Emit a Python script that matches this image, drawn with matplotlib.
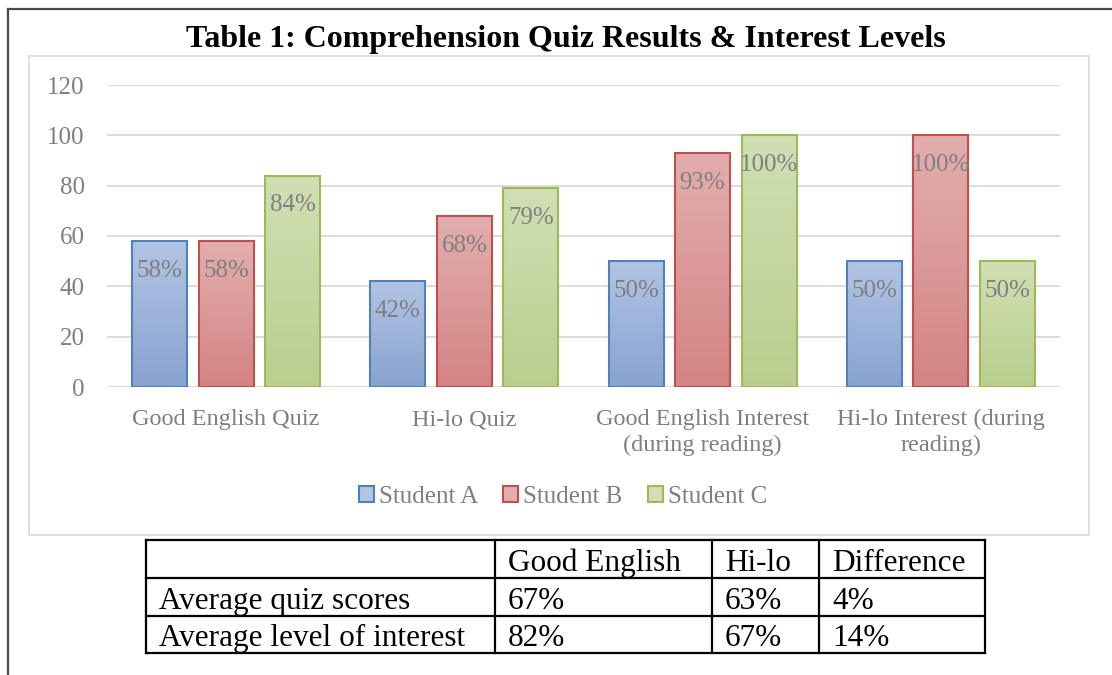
import numpy as np
import matplotlib
matplotlib.use("Agg")
import matplotlib.pyplot as plt
from matplotlib.colors import LinearSegmentedColormap
from matplotlib.patches import Rectangle, Patch
from matplotlib.lines import Line2D

categories = ["Good English Quiz", "Hi-lo Quiz",
              "Good English Interest\n(during reading)",
              "Hi-lo Interest (during\nreading)"]
series_names = ["Student A", "Student B", "Student C"]
student_a = [58, 42, 50, 50]
student_b = [58, 68, 93, 100]
student_c = [84, 79, 100, 50]
y_ticks = [0, 20, 40, 60, 80, 100, 120]

table_header = ["", "Good English", "Hi-lo", "Difference"]
table_rows = [["Average quiz scores", "67%", "63%", "4%"],
              ["Average level of interest", "82%", "67%", "14%"]]

title = "Table 1: Comprehension Quiz Results & Interest Levels"

# colours: (edge, top of gradient, bottom of gradient)
styles = [("#4f81bd", "#b2c4e3", "#88a3d1"),
          ("#c0504d", "#e3aeae", "#d38483"),
          ("#9bbb59", "#d1dfb4", "#b9ce8e")]

W, H = 1112, 675
serif = "Liberation Serif"
grey = "#7f7f7f"

fig = plt.figure(figsize=(W / 100, H / 100), dpi=100)

def fx(px):
    return px / W

def fy(py):
    return 1 - py / H

# page frame (top and left edge)
fig.add_artist(Line2D([fx(8), 1], [fy(9), fy(9)], color="#4a4a4a", lw=1.6))
fig.add_artist(Line2D([fx(8), fx(8)], [fy(9), 0], color="#4a4a4a", lw=1.6))

# chart area frame
fig.add_artist(Rectangle((fx(29), fy(535)), fx(1089) - fx(29), fy(56) - fy(535),
                         fill=False, edgecolor="#d9d9d9", lw=1.2))

fig.text(fx(566), fy(40), title, family=serif, weight="bold", fontsize=23,
         ha="center", va="center", color="black")

ax = fig.add_axes([fx(107), fy(387), fx(1060) - fx(107), fy(85) - fy(387)])
x = np.arange(len(categories))
step = 0.279
width = 0.231
all_series = [student_a, student_b, student_c]

for i, vals in enumerate(all_series):
    edge, top, bottom = styles[i]
    cmap = LinearSegmentedColormap.from_list("g%d" % i, [bottom, top])
    xs = x + (i - 1) * step
    bars = ax.bar(xs, vals, width, facecolor="none", edgecolor=edge,
                  linewidth=1.5, zorder=3)
    for b, v in zip(bars, vals):
        grad = np.linspace(0, 1, 100).reshape(-1, 1)
        im = ax.imshow(grad, extent=[b.get_x(), b.get_x() + b.get_width(), 0, v],
                       origin="lower", aspect="auto", cmap=cmap, zorder=2)
        im.set_clip_path(b)
        ax.annotate("%d%%" % v, xy=(b.get_x() + b.get_width() / 2, v),
                    xytext=(0, -21.5), textcoords="offset points",
                    ha="center", va="center", fontsize=18, family=serif,
                    color=grey, zorder=4)

ax.set_xlim(-0.5, len(categories) - 0.5)
ax.set_ylim(0, 120)
ax.set_yticks(y_ticks)
ax.set_xticks(x)
ax.set_xticklabels(categories, linespacing=1.3)
ax.yaxis.grid(True, color="#d9d9d9", lw=1.3)
ax.set_axisbelow(True)
for s in ax.spines.values():
    s.set_visible(False)
ax.tick_params(axis="y", length=0, pad=16, labelsize=18, labelcolor=grey)
ax.tick_params(axis="x", length=0, pad=16, labelsize=17.5, labelcolor=grey)
for lab in ax.get_xticklabels() + ax.get_yticklabels():
    lab.set_family(serif)

handles = [Patch(facecolor=styles[i][1], edgecolor=styles[i][0], lw=1.5)
           for i in range(3)]
leg = fig.legend(handles, series_names, loc="center",
                 bbox_to_anchor=(fx(563), fy(497)), ncol=3, frameon=False,
                 prop={"family": serif, "size": 18}, handlelength=0.6,
                 handleheight=0.6, handletextpad=0.2, columnspacing=1.0)
for t in leg.get_texts():
    t.set_color(grey)

# table below the chart
col_x = [146, 495, 712, 819, 985]
row_y = [540, 578, 616, 653]
for yy in row_y:
    fig.add_artist(Line2D([fx(col_x[0]), fx(col_x[-1])], [fy(yy), fy(yy)],
                          color="black", lw=1.6))
for xx in col_x:
    fig.add_artist(Line2D([fx(xx), fx(xx)], [fy(row_y[0]), fy(row_y[-1])],
                          color="black", lw=1.6))
for r, row in enumerate([table_header] + table_rows):
    for c, txt in enumerate(row):
        fig.text(fx(col_x[c] + 13), fy(row_y[r + 1] - 7), txt, family=serif,
                 fontsize=22.5, ha="left", va="baseline", color="black")

fig.savefig("out.png", dpi=100)
